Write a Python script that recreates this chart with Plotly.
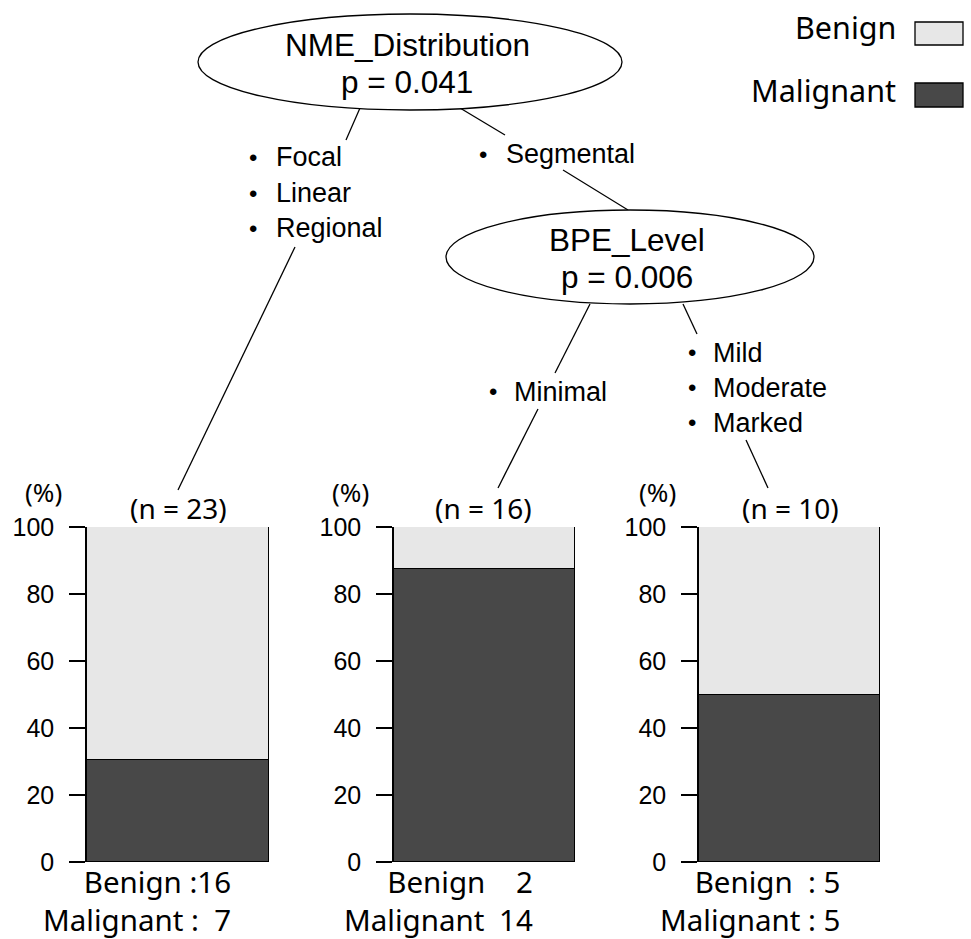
import plotly.graph_objects as go

# ---------------- data ----------------
groups = ["Focal / Linear / Regional", "Segmental & Minimal", "Segmental & Mild / Moderate / Marked"]
benign_counts = [16, 2, 5]
malignant_counts = [7, 14, 5]
n_totals = [23, 16, 10]
y_ticks = [0, 20, 40, 60, 80, 100]
benign_text = ["Benign :16", "Benign    2", "Benign  : 5"]
malignant_text = ["Malignant :  7", "Malignant\u200214", "Malignant : 5"]

node_names = ["NME_Distribution", "BPE_Level"]
node_pvalues = ["p = 0.041", "p = 0.006"]
left_split = ["Focal", "Linear", "Regional"]
seg_split = ["Segmental"]
min_split = ["Minimal"]
high_split = ["Mild", "Moderate", "Marked"]

# ---------------- styling / geometry ----------------
W, H = 971, 939
DARK = "#484848"
LIGHT = "#e7e7e7"
ARIAL = "Liberation Sans, Arial, sans-serif"
JP = "Noto Sans, Noto Sans CJK JP, sans-serif"


def fx(x):
    return x / W


def fy(y):
    return 1 - y / H


panel_px = [(87, 269), (394, 575), (699, 880)]
top_px, bot_px = 527, 862

fig = go.Figure()
layout_axes = {}
for i in range(3):
    sfx = "" if i == 0 else str(i + 1)
    n = benign_counts[i] + malignant_counts[i]
    fig.add_bar(
        x=[groups[i]], y=[malignant_counts[i] / n * 100], width=1,
        marker=dict(color=DARK, line=dict(color="black", width=1.5)),
        xaxis="x" + sfx, yaxis="y" + sfx, name="Malignant", showlegend=False,
        hoverinfo="skip",
    )
    fig.add_bar(
        x=[groups[i]], y=[benign_counts[i] / n * 100], width=1,
        marker=dict(color=LIGHT, line=dict(color="black", width=1.5)),
        xaxis="x" + sfx, yaxis="y" + sfx, name="Benign", showlegend=False,
        hoverinfo="skip",
    )
    x0, x1 = panel_px[i]
    layout_axes["xaxis" + sfx] = dict(
        domain=[fx(x0), fx(x1)], anchor="y" + sfx, type="category",
        range=[-0.5, 0.5], visible=False, fixedrange=True, automargin=False,
    )
    layout_axes["yaxis" + sfx] = dict(
        domain=[fy(bot_px), fy(top_px)], anchor="x" + sfx, range=[0, 100],
        tickvals=y_ticks, ticks="outside", ticklen=16, tickwidth=1.5,
        tickcolor="black", showline=True, linecolor="black", linewidth=1.5,
        showgrid=False, zeroline=False, ticklabelstandoff=10, automargin=False,
        tickfont=dict(family=ARIAL, size=25, color="black"), fixedrange=True,
    )

shapes = []
annotations = []


def line(a, b):
    shapes.append(dict(type="line", xref="paper", yref="paper",
                       x0=fx(a[0]), y0=fy(a[1]), x1=fx(b[0]), y1=fy(b[1]),
                       line=dict(color="black", width=1.3)))


def text(x, y, s, size, family=ARIAL, xanchor="center", align="center"):
    annotations.append(dict(xref="paper", yref="paper", x=fx(x), y=fy(y), text=s,
                            showarrow=False, xanchor=xanchor, yanchor="middle",
                            align=align,
                            font=dict(family=family, size=size, color="black")))


# tree edges
line((360, 108), (346, 140))
line((295, 247), (178, 490))
line((460, 108), (505, 135))
line((563, 170), (628, 210))
line((590, 304), (555, 373))
line((538, 409), (498, 488))
line((683, 304), (697, 334))
line((746, 440), (768, 488))

# nodes
for (cx, cy, rx, ry), name, p in zip([(410, 62, 212, 48), (630, 257, 184, 47)], node_names, node_pvalues):
    shapes.append(dict(type="circle", xref="paper", yref="paper",
                       x0=fx(cx - rx), x1=fx(cx + rx), y0=fy(cy + ry), y1=fy(cy - ry),
                       line=dict(color="black", width=1.3), fillcolor="white"))
    text(cx - 3, cy - 17, name, 31.5)
    text(cx - 3, cy + 20, p, 31.5)


def bullets(bx, tx, ys, items):
    for y, it in zip(ys, items):
        text(bx, y, "•", 24)
        text(tx, y, it, 27, xanchor="left")


bullets(253, 274, [157, 193, 228], left_split)
bullets(483, 504, [154], seg_split)
bullets(493, 512, [392], min_split)
bullets(692, 711, [353, 388, 423], high_split)

# panel labels
pct_x = [43, 350, 657]
n_x = [178, 483, 790]
right_x = [233, 535, 842]
for i in range(3):
    text(pct_x[i], 492, "(%)", 26, JP)
    text(n_x[i], 508, f"(n = {n_totals[i]})", 28, JP)
    text(right_x[i], 900, benign_text[i] + "<br>" + malignant_text[i], 29.5, JP,
         xanchor="right", align="right")

# legend
for y_txt, (b0, b1), lab, col in [(27, (22, 45), "Benign", LIGHT), (90, (83, 107), "Malignant", DARK)]:
    text(898, y_txt, lab, 30.5, JP, xanchor="right")
    shapes.append(dict(type="rect", xref="paper", yref="paper",
                       x0=fx(915), x1=fx(963), y0=fy(b1), y1=fy(b0),
                       line=dict(color="black", width=1.3), fillcolor=col))

fig.update_layout(
    template="none",
    width=W, height=H, margin=dict(l=0, r=0, t=0, b=0, pad=0, autoexpand=False),
    paper_bgcolor="white", plot_bgcolor="white", barmode="stack",
    bargap=0, showlegend=False, shapes=shapes, annotations=annotations,
    **layout_axes,
)

fig.write_html("out.html", config={"displayModeBar": False},
               post_script="document.body.style.margin='0';")
